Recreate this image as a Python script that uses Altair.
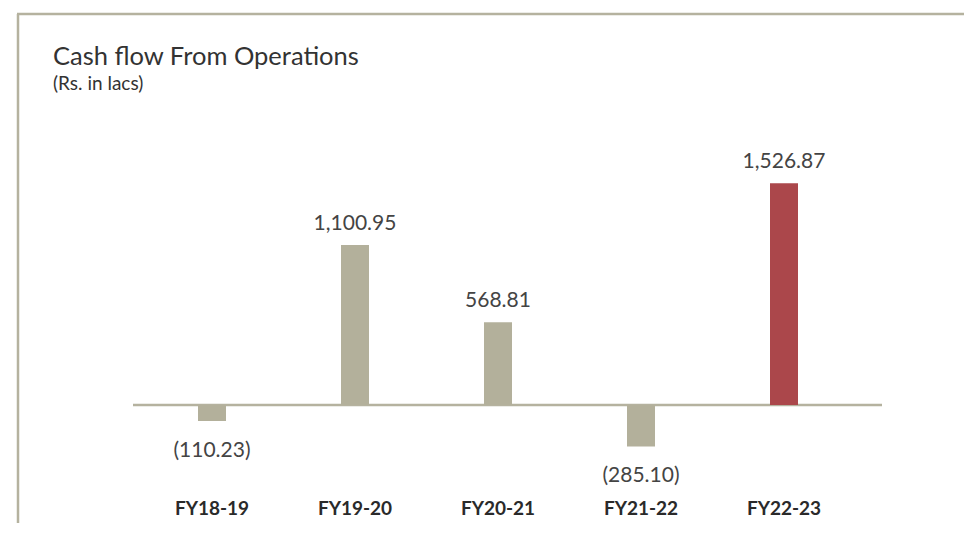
import altair as alt
import pandas as pd

categories = ["FY18-19", "FY19-20", "FY20-21", "FY21-22", "FY22-23"]
values = [-110.23, 1100.95, 568.81, -285.10, 1526.87]
bar_colors = ["#b3b09b", "#b3b09b", "#b3b09b", "#b3b09b", "#ab474b"]
title_text = "Cash flow From Operations"
subtitle_text = "(Rs. in lacs)"

labels = [f"({abs(v):,.2f})" if v < 0 else f"{v:,.2f}" for v in values]
df = pd.DataFrame({"cat": categories, "value": values, "color": bar_colors, "label": labels})
one = pd.DataFrame({"a": [0]})

FONT = "Lato"
W, H = 956, 515
frame_color = "#b5b29f"

xscale = alt.Scale(domain=categories, range=[132.5, 847.5], paddingInner=0, paddingOuter=0)
yscale = alt.Scale(domain=[-812.1, 2732.3], nice=False, zero=False)

X = alt.X("cat:N", scale=xscale, axis=None, sort=categories)
Y = alt.Y("value:Q", scale=yscale, axis=None)

base = alt.Chart(df)

bars = base.mark_bar(size=28).encode(
    x=X, y=Y, y2=alt.datum(0), color=alt.Color("color:N", scale=None)
)

baseline = alt.Chart(one).mark_rule(color=frame_color, strokeWidth=2.5).encode(
    x=alt.value(125), x2=alt.value(874), y=alt.Y(datum=0, scale=yscale, axis=None)
)

pos_labels = base.transform_filter("datum.value >= 0").mark_text(
    font=FONT, fontSize=21, color="#444444", dy=-21, baseline="middle"
).encode(x=X, y=Y, text="label:N")

neg_labels = base.transform_filter("datum.value < 0").mark_text(
    font=FONT, fontSize=21, color="#444444", dy=30, baseline="middle"
).encode(x=X, y=Y, text="label:N")

cat_labels = base.mark_text(
    font=FONT, fontSize=19, fontWeight="bold", color="#2a2a2a", baseline="middle"
).encode(x=X, y=alt.value(501), text="cat:N")

top_border = alt.Chart(one).mark_rule(color=frame_color, strokeWidth=2.5).encode(
    x=alt.value(9), x2=alt.value(W), y=alt.value(6)
)
left_border = alt.Chart(one).mark_rule(color=frame_color, strokeWidth=2.5).encode(
    x=alt.value(10), y=alt.value(6), y2=alt.value(H)
)

title = alt.Chart(one).mark_text(
    text=title_text, font=FONT, fontSize=25.5, color="#333333", align="left", baseline="alphabetic"
).encode(x=alt.value(45), y=alt.value(57))

subtitle = alt.Chart(one).mark_text(
    text=subtitle_text, font=FONT, fontSize=19, color="#333333", align="left", baseline="alphabetic"
).encode(x=alt.value(45), y=alt.value(82))

chart = alt.layer(
    top_border, left_border, baseline, bars, pos_labels, neg_labels, cat_labels, title, subtitle
).properties(
    width=W, height=H, padding=0, autosize="none"
).configure_view(stroke=None)

chart.save("out.html", embed_options={"renderer": "svg", "actions": False})
